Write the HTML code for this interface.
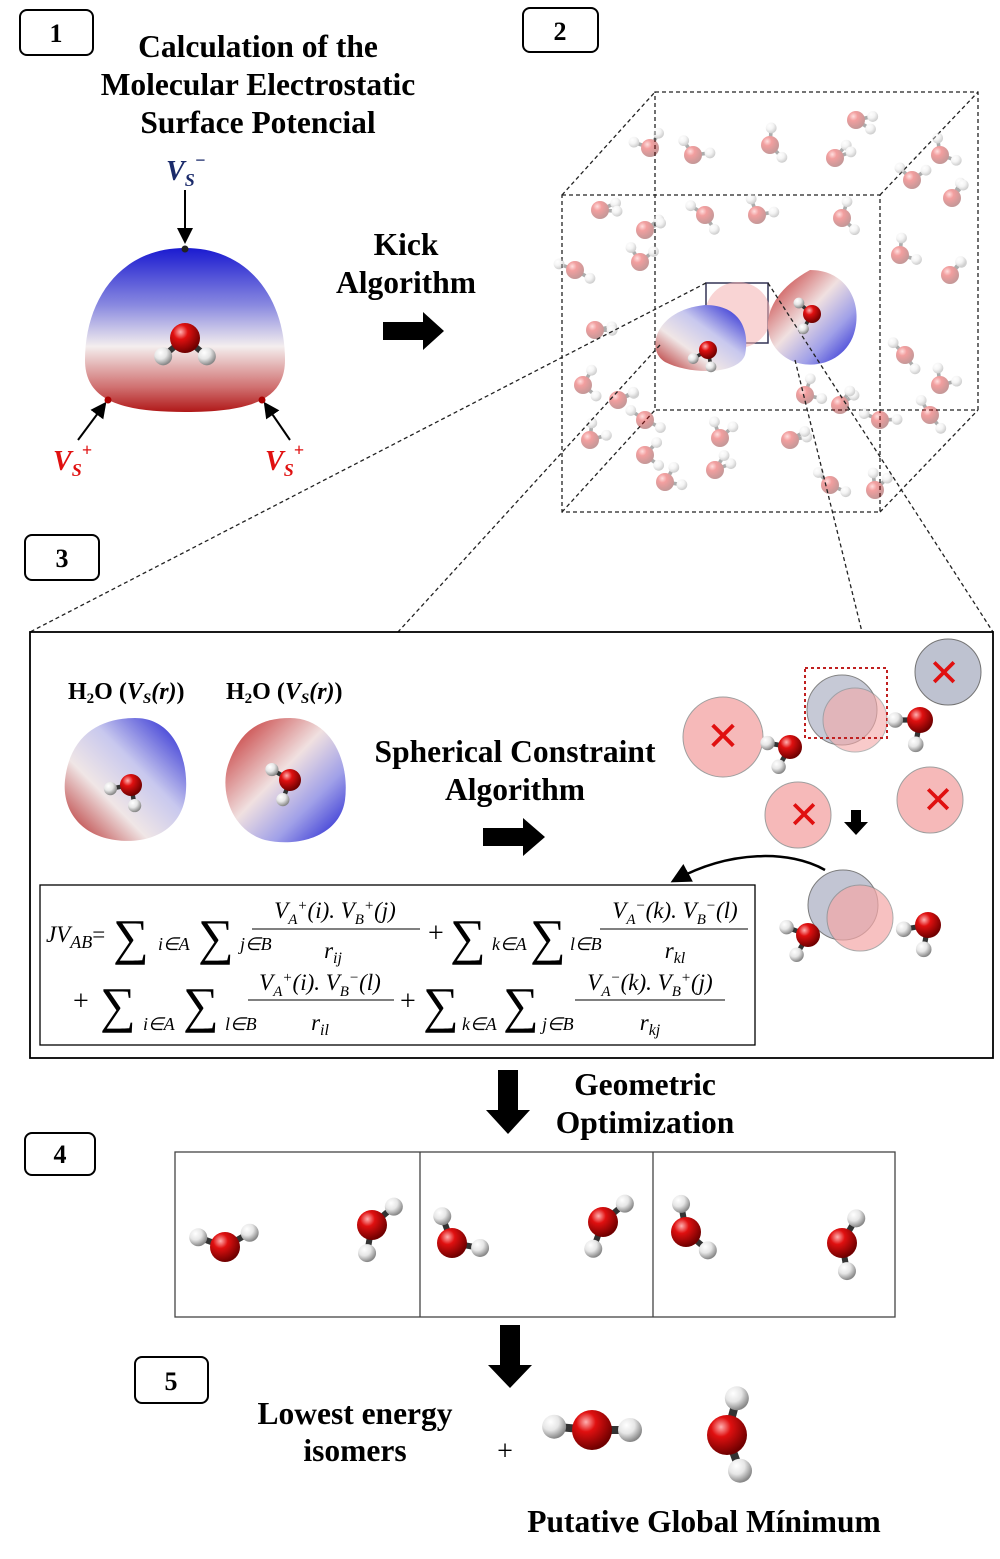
<!DOCTYPE html>
<html><head><meta charset="utf-8"><style>
html,body{margin:0;padding:0;background:#fff;}
svg{display:block;}
.t{font-family:"Liberation Serif",serif;font-weight:bold;font-size:31.5px;text-anchor:middle;fill:#000;}
.m{font-family:"Liberation Serif",serif;font-style:italic;font-size:23px;fill:#000;}
.s{font-family:"Liberation Serif",serif;font-size:50px;fill:#000;}
.sub{font-family:"Liberation Serif",serif;font-style:italic;font-size:18px;fill:#000;}
.num{font-family:"Liberation Serif",serif;font-size:26px;font-weight:bold;text-anchor:middle;}
</style></head><body>
<svg id="fig" width="1000" height="1559" viewBox="0 0 1000 1559" xmlns="http://www.w3.org/2000/svg">
<defs>
<radialGradient id="gO" cx="35%" cy="30%" r="70%"><stop offset="0" stop-color="#ffb0b0"/><stop offset="0.35" stop-color="#e01010"/><stop offset="1" stop-color="#700000"/></radialGradient>
<radialGradient id="gH" cx="35%" cy="30%" r="70%"><stop offset="0" stop-color="#ffffff"/><stop offset="0.5" stop-color="#e6e6e6"/><stop offset="1" stop-color="#888"/></radialGradient>
<linearGradient id="gEsp" x1="0" y1="0" x2="0" y2="1"><stop offset="0" stop-color="#1a1ad0"/><stop offset="0.35" stop-color="#8a8ae0"/><stop offset="0.6" stop-color="#f4eeee"/><stop offset="0.85" stop-color="#d07070"/><stop offset="1" stop-color="#b01818"/></linearGradient>
<linearGradient id="gEsp2" x1="1" y1="0" x2="0" y2="1"><stop offset="0" stop-color="#1a1ad0"/><stop offset="0.4" stop-color="#c8c8ee"/><stop offset="0.65" stop-color="#f0e6e6"/><stop offset="1" stop-color="#b01818"/></linearGradient>
<linearGradient id="gEsp3" x1="0" y1="0" x2="1" y2="1"><stop offset="0" stop-color="#c02020"/><stop offset="0.45" stop-color="#f0e0e0"/><stop offset="0.7" stop-color="#a0a0e8"/><stop offset="1" stop-color="#1a1ad0"/></linearGradient>
<marker id="ah" markerWidth="8" markerHeight="8" refX="6" refY="4" orient="auto"><path d="M0,0 L8,4 L0,8 z" fill="#000"/></marker>
</defs>

<g><rect x="20" y="10" width="73" height="45" rx="7" fill="#fff" stroke="#000" stroke-width="2"/><text x="56" y="42" class="num">1</text></g>
<g><rect x="523" y="8" width="75" height="44" rx="7" fill="#fff" stroke="#000" stroke-width="2"/><text x="560" y="40" class="num">2</text></g>
<g><rect x="25" y="535" width="74" height="45" rx="7" fill="#fff" stroke="#000" stroke-width="2"/><text x="62" y="567" class="num">3</text></g>
<g><rect x="25" y="1133" width="70" height="42" rx="7" fill="#fff" stroke="#000" stroke-width="2"/><text x="60" y="1163" class="num">4</text></g>
<g><rect x="135" y="1357" width="73" height="46" rx="7" fill="#fff" stroke="#000" stroke-width="2"/><text x="171" y="1390" class="num">5</text></g>

<text class="t" x="258" y="57">Calculation of the</text>
<text class="t" x="258" y="95">Molecular Electrostatic</text>
<text class="t" x="258" y="133">Surface Potencial</text>
<path d="M185,248 C250,248 285,300 285,360 C285,400 250,412 185,412 C120,412 85,400 85,360 C85,300 120,248 185,248 Z" fill="url(#gEsp)"/>
<g><text x="166" y="180" font-family="Liberation Serif" font-style="italic" font-weight="bold" font-size="28" fill="#1a2a6a">V<tspan font-size="18" dy="6">S</tspan><tspan font-size="18" dy="-20">−</tspan></text></g>
<line x1="185" y1="190" x2="185" y2="240" stroke="#000" stroke-width="2" marker-end="url(#ah)"/>
<circle cx="185" cy="249" r="3.5" fill="#222"/>
<g><text x="53" y="470" font-family="Liberation Serif" font-style="italic" font-weight="bold" font-size="28" fill="#e01010">V<tspan font-size="18" dy="6">S</tspan><tspan font-size="18" dy="-20">+</tspan></text></g>
<g><text x="265" y="470" font-family="Liberation Serif" font-style="italic" font-weight="bold" font-size="28" fill="#e01010">V<tspan font-size="18" dy="6">S</tspan><tspan font-size="18" dy="-20">+</tspan></text></g>
<line x1="78" y1="440" x2="104" y2="405" stroke="#000" stroke-width="2" marker-end="url(#ah)"/>
<line x1="290" y1="440" x2="266" y2="405" stroke="#000" stroke-width="2" marker-end="url(#ah)"/>
<circle cx="108" cy="400" r="3.5" fill="#a00"/><circle cx="262" cy="400" r="3.5" fill="#a00"/>
<text class="t" x="406" y="255">Kick</text>
<text class="t" x="406" y="293">Algorithm</text>
<path d="M383,322 L423,322 L423,312 L444,331 L423,350 L423,340 L383,340 Z" fill="#000"/>

<g fill="none" stroke="#222" stroke-width="1.3" stroke-dasharray="4,3">
<rect x="562" y="195" width="318" height="317"/>
<rect x="655" y="92" width="323" height="318"/>
<line x1="562" y1="195" x2="655" y2="92"/><line x1="880" y1="195" x2="978" y2="92"/>
<line x1="880" y1="512" x2="978" y2="410"/><line x1="562" y1="512" x2="655" y2="410"/>
</g>
<g id="faint"></g>
<rect x="706" y="283" width="62" height="60" fill="none" stroke="#335" stroke-width="1.5"/>
<circle cx="738" cy="315" r="33" fill="#f4b0b0" opacity="0.55"/>
<path d="M705,305 C740,305 750,330 745,355 C738,375 690,375 665,362 C645,350 655,310 705,305Z" fill="url(#gEsp2)"/>
<path d="M810,270 C845,270 862,300 855,330 C848,360 815,372 790,360 C760,345 755,300 810,270Z" fill="url(#gEsp3)"/>
<g stroke="#222" stroke-width="1.3" stroke-dasharray="4,3" fill="none">
<line x1="706" y1="283" x2="30" y2="632"/><line x1="660" y1="345" x2="398" y2="632"/>
<line x1="768" y1="283" x2="993" y2="632"/><line x1="795" y1="360" x2="862" y2="632"/>
</g>

<rect x="30" y="632" width="963" height="426" fill="#fff" stroke="#000" stroke-width="1.8"/>
<text x="68" y="699" font-family="Liberation Serif" font-weight="bold" font-size="24">H<tspan font-size="15" dy="4">2</tspan><tspan dy="-4">O (</tspan><tspan font-style="italic">V</tspan><tspan font-style="italic" font-size="15" dy="4">S</tspan><tspan dy="-4" font-style="italic">(r)</tspan>)</text>
<text x="226" y="699" font-family="Liberation Serif" font-weight="bold" font-size="24">H<tspan font-size="15" dy="4">2</tspan><tspan dy="-4">O (</tspan><tspan font-style="italic">V</tspan><tspan font-style="italic" font-size="15" dy="4">S</tspan><tspan dy="-4" font-style="italic">(r)</tspan>)</text>
<path d="M135,718 C175,718 188,760 186,790 C184,830 150,845 115,840 C80,835 62,810 65,780 C70,735 100,718 135,718Z" fill="url(#gEsp2)"/>
<path d="M290,718 C330,718 350,760 345,800 C340,835 300,848 265,840 C230,830 220,790 228,765 C240,730 260,718 290,718Z" fill="url(#gEsp3)"/>
<text class="t" x="515" y="762">Spherical Constraint</text>
<text class="t" x="515" y="800">Algorithm</text>
<path d="M483,828 L523,828 L523,818 L545,837 L523,856 L523,846 L483,846 Z" fill="#000"/>
<g id="spheres">
<circle cx="723" cy="737" r="40" fill="#f4a8a8" stroke="#888" opacity="0.8"/>
<circle cx="798" cy="815" r="33" fill="#f4a8a8" stroke="#888" opacity="0.8"/>
<circle cx="930" cy="800" r="33" fill="#f4a8a8" stroke="#888" opacity="0.8"/>
<circle cx="948" cy="672" r="33" fill="#b8bccc" stroke="#666" opacity="0.9"/>
<circle cx="842" cy="710" r="35" fill="#b8bccc" stroke="#666" opacity="0.8"/>
<circle cx="855" cy="720" r="32" fill="#f4a8a8" stroke="#888" opacity="0.6"/>
<rect x="805" y="668" width="82" height="70" fill="none" stroke="#c02020" stroke-width="2" stroke-dasharray="3,3"/>
<circle cx="843" cy="905" r="35" fill="#b8bccc" stroke="#666" opacity="0.85"/>
<circle cx="860" cy="918" r="33" fill="#f4a8a8" stroke="#888" opacity="0.7"/>
<text x="723" y="750" font-family="Liberation Sans" font-size="40" fill="#e01010" text-anchor="middle">✕</text>
<text x="804" y="828" font-family="Liberation Sans" font-size="38" fill="#e01010" text-anchor="middle">✕</text>
<text x="938" y="813" font-family="Liberation Sans" font-size="38" fill="#e01010" text-anchor="middle">✕</text>
<text x="944" y="686" font-family="Liberation Sans" font-size="38" fill="#e01010" text-anchor="middle">✕</text>
<path d="M851,810 L861,810 L861,822 L868,822 L856,835 L844,822 L851,822Z" fill="#000"/>
<path d="M825,870 C790,850 730,850 675,880" fill="none" stroke="#000" stroke-width="2.5" marker-end="url(#ah)"/>
</g>

<rect x="40" y="885" width="715" height="160" fill="#fff" stroke="#000" stroke-width="1.3"/>
<g>
<text class="m" x="46" y="942" font-size="25">JV<tspan class="sub" dy="6">AB</tspan><tspan dy="-6" font-style="normal">=</tspan></text>
<text class="s" x="113" y="954">∑</text><text class="sub" x="158" y="950">i∈A</text>
<text class="s" x="198" y="954">∑</text><text class="sub" x="240" y="950">j∈B</text>
<text class="m" x="335" y="918" text-anchor="middle">V<tspan font-size="15" dy="6">A</tspan><tspan font-size="15" dy="-14">+</tspan><tspan dy="8">(i). V</tspan><tspan font-size="15" dy="6">B</tspan><tspan font-size="15" dy="-14">+</tspan><tspan dy="8">(j)</tspan></text>
<line x1="252" y1="929" x2="420" y2="929" stroke="#000"/>
<text class="m" x="333" y="958" text-anchor="middle">r<tspan font-size="16" dy="5">ij</tspan></text>
<text x="428" y="942" font-family="Liberation Serif" font-size="28">+</text>
<text class="s" x="450" y="954">∑</text><text class="sub" x="492" y="950">k∈A</text>
<text class="s" x="530" y="954">∑</text><text class="sub" x="570" y="950">l∈B</text>
<text class="m" x="675" y="918" text-anchor="middle">V<tspan font-size="15" dy="6">A</tspan><tspan font-size="15" dy="-14">−</tspan><tspan dy="8">(k). V</tspan><tspan font-size="15" dy="6">B</tspan><tspan font-size="15" dy="-14">−</tspan><tspan dy="8">(l)</tspan></text>
<line x1="600" y1="929" x2="748" y2="929" stroke="#000"/>
<text class="m" x="675" y="958" text-anchor="middle">r<tspan font-size="16" dy="5">kl</tspan></text>
<text x="73" y="1010" font-family="Liberation Serif" font-size="28">+</text>
<text class="s" x="100" y="1022">∑</text><text class="sub" x="143" y="1030">i∈A</text>
<text class="s" x="183" y="1022">∑</text><text class="sub" x="225" y="1030">l∈B</text>
<text class="m" x="320" y="990" text-anchor="middle">V<tspan font-size="15" dy="6">A</tspan><tspan font-size="15" dy="-14">+</tspan><tspan dy="8">(i). V</tspan><tspan font-size="15" dy="6">B</tspan><tspan font-size="15" dy="-14">−</tspan><tspan dy="8">(l)</tspan></text>
<line x1="248" y1="1000" x2="394" y2="1000" stroke="#000"/>
<text class="m" x="320" y="1030" text-anchor="middle">r<tspan font-size="16" dy="5">il</tspan></text>
<text x="400" y="1010" font-family="Liberation Serif" font-size="28">+</text>
<text class="s" x="423" y="1022">∑</text><text class="sub" x="462" y="1030">k∈A</text>
<text class="s" x="503" y="1022">∑</text><text class="sub" x="542" y="1030">j∈B</text>
<text class="m" x="650" y="990" text-anchor="middle">V<tspan font-size="15" dy="6">A</tspan><tspan font-size="15" dy="-14">−</tspan><tspan dy="8">(k). V</tspan><tspan font-size="15" dy="6">B</tspan><tspan font-size="15" dy="-14">+</tspan><tspan dy="8">(j)</tspan></text>
<line x1="575" y1="1000" x2="725" y2="1000" stroke="#000"/>
<text class="m" x="650" y="1030" text-anchor="middle">r<tspan font-size="16" dy="5">kj</tspan></text>
</g>

<path d="M498,1070 L518,1070 L518,1110 L530,1110 L508,1134 L486,1110 L498,1110Z" fill="#000"/>
<text class="t" x="645" y="1095">Geometric</text>
<text class="t" x="645" y="1133">Optimization</text>
<rect x="175" y="1152" width="720" height="165" fill="#fff" stroke="#444" stroke-width="1.3"/>
<line x1="420" y1="1152" x2="420" y2="1317" stroke="#444" stroke-width="1.3"/>
<line x1="653" y1="1152" x2="653" y2="1317" stroke="#444" stroke-width="1.3"/>

<path d="M500,1325 L520,1325 L520,1365 L532,1365 L510,1388 L488,1365 L500,1365Z" fill="#000"/>
<text class="t" x="355" y="1424">Lowest energy</text>
<text class="t" x="355" y="1461">isomers</text>
<text x="505" y="1460" font-family="Liberation Serif" font-size="28" text-anchor="middle">+</text>
<text class="t" x="704" y="1532">Putative Global Mínimum</text>
<g id="mols"></g>
</svg>
<script>
var NS="http://www.w3.org/2000/svg";
function mol(parent,x,y,r,h1,h2,op){
  var g=document.createElementNS(NS,"g");
  
  
  if(op!==undefined)g.setAttribute("opacity",op);
  [h1,h2].forEach(function(a){
    var hx=x+Math.cos(a*Math.PI/180)*r*1.9, hy=y+Math.sin(a*Math.PI/180)*r*1.9;
    var l=document.createElementNS(NS,"line");
    l.setAttribute("x1",x);l.setAttribute("y1",y);l.setAttribute("x2",hx);l.setAttribute("y2",hy);
    l.setAttribute("stroke","#333");l.setAttribute("stroke-width",r*0.4);
    g.appendChild(l);
    var c=document.createElementNS(NS,"circle");
    c.setAttribute("cx",hx);c.setAttribute("cy",hy);c.setAttribute("r",r*0.6);c.setAttribute("fill","url(#gH)");
    g.appendChild(c);
  });
  var o=document.createElementNS(NS,"circle");
  o.setAttribute("cx",x);o.setAttribute("cy",y);o.setAttribute("r",r);o.setAttribute("fill","url(#gO)");
  g.appendChild(o);
  parent.appendChild(g);
}
var faint=document.getElementById("faint"), mols=document.getElementById("mols");
var fm=[[650,148],[693,155],[770,145],[835,158],[856,120],[912,180],[940,155],[952,198],[600,210],[705,215],[757,215],[842,218],[645,230],[575,270],[640,262],[900,255],[950,275],[595,330],[905,355],[940,385],[583,385],[618,400],[645,420],[720,438],[805,395],[840,405],[880,420],[930,415],[590,440],[645,455],[790,440],[830,485],[875,490],[665,482],[715,470]];
fm.forEach(function(p,i){mol(faint,p[0],p[1],9,200+i*37%160,300+i*53%120,0.4);});
mol(mols,708,350,9,150,80);
mol(mols,812,314,9,220,120);
mol(mols,131,785,11,170,80);
mol(mols,290,780,11,210,110);
mol(mols,790,747,12,190,120);
mol(mols,920,720,13,180,100);
mol(mols,808,935,12,200,120);
mol(mols,928,925,13,170,100);
mol(mols,185,338,15,140,40);
mol(mols,225,1247,15,200,330);
mol(mols,372,1225,15,320,100);
mol(mols,452,1243,15,250,10);
mol(mols,603,1222,15,320,110);
mol(mols,686,1232,15,260,40);
mol(mols,842,1243,15,300,80);
mol(mols,592,1430,20,185,0);
mol(mols,727,1435,20,285,70);
</script>
</body></html>
